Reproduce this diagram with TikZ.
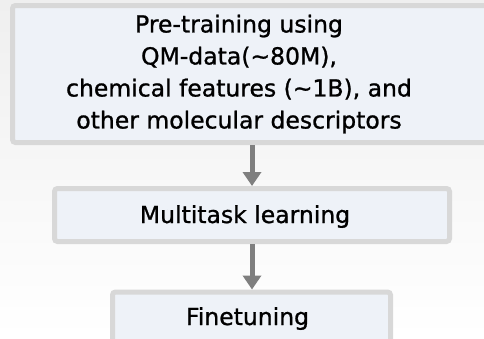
\documentclass[tikz,border=0pt]{standalone}
\usepackage{fontspec}
\setmainfont{DejaVu Sans}
\newfontfamily\stagefont{DejaVu Sans}[FakeBold=1]
\usetikzlibrary{positioning}
\usetikzlibrary{arrows.meta}
\usetikzlibrary{fit}
\definecolor{boxfill}{HTML}{EEF2F8}
\definecolor{boxline}{HTML}{D8D8D8}
\definecolor{arrowgray}{HTML}{7F7F7F}
\definecolor{bgtop}{HTML}{EFEFEF}
\tikzset {
  % stage boxes
  stage/.style = {draw=boxline, fill=boxfill, line width=5pt, rounded corners=3pt, inner sep=0pt},
  % text set in the boxes
  stagetext/.style = {font=\stagefont\fontsize{23.5}{32}\selectfont, align=center, inner sep=0pt},
  % arrows between the stages
  flow/.style = {draw=arrowgray, line width=5pt, -{Triangle[length=14pt, width=18pt, fill=arrowgray]}},
}

\begin{document}
\begin{tikzpicture}[x=1pt, y=-1pt]
      \shade[top color=bgtop, bottom color=white] (0,0) rectangle (484,338);
      \useasboundingbox (0,0) rectangle (484,338);
      \clip (0,0) rectangle (484,338);

      \node[stage, fit={(12.5,5.5) (500,142.5)}] (pre) {};
      \node[stage, minimum width=395pt, minimum height=53pt] (mtl) at (252,215) {};
      \node[stage, minimum width=278pt, minimum height=100pt, anchor=north] (fine) at (251.5,289.5) {};

      \node[stagetext] (pretxt) at (239,74) {Pre-training using\\QM-data(\textasciitilde80M),\\chemical features (\textasciitilde1B), and\\other molecular descriptors};
      \node[stagetext, anchor=base] (mtltxt) at (245,223) {Multitask learning};
      \node[stagetext, anchor=base] (finetxt) at (247.5,325) {Finetuning};

      \draw[flow] (pre.south -| mtl.north) -- (mtl.north);
      \draw[flow] (mtl.south) -- (mtl.south |- fine.north);
\end{tikzpicture}
\end{document}
